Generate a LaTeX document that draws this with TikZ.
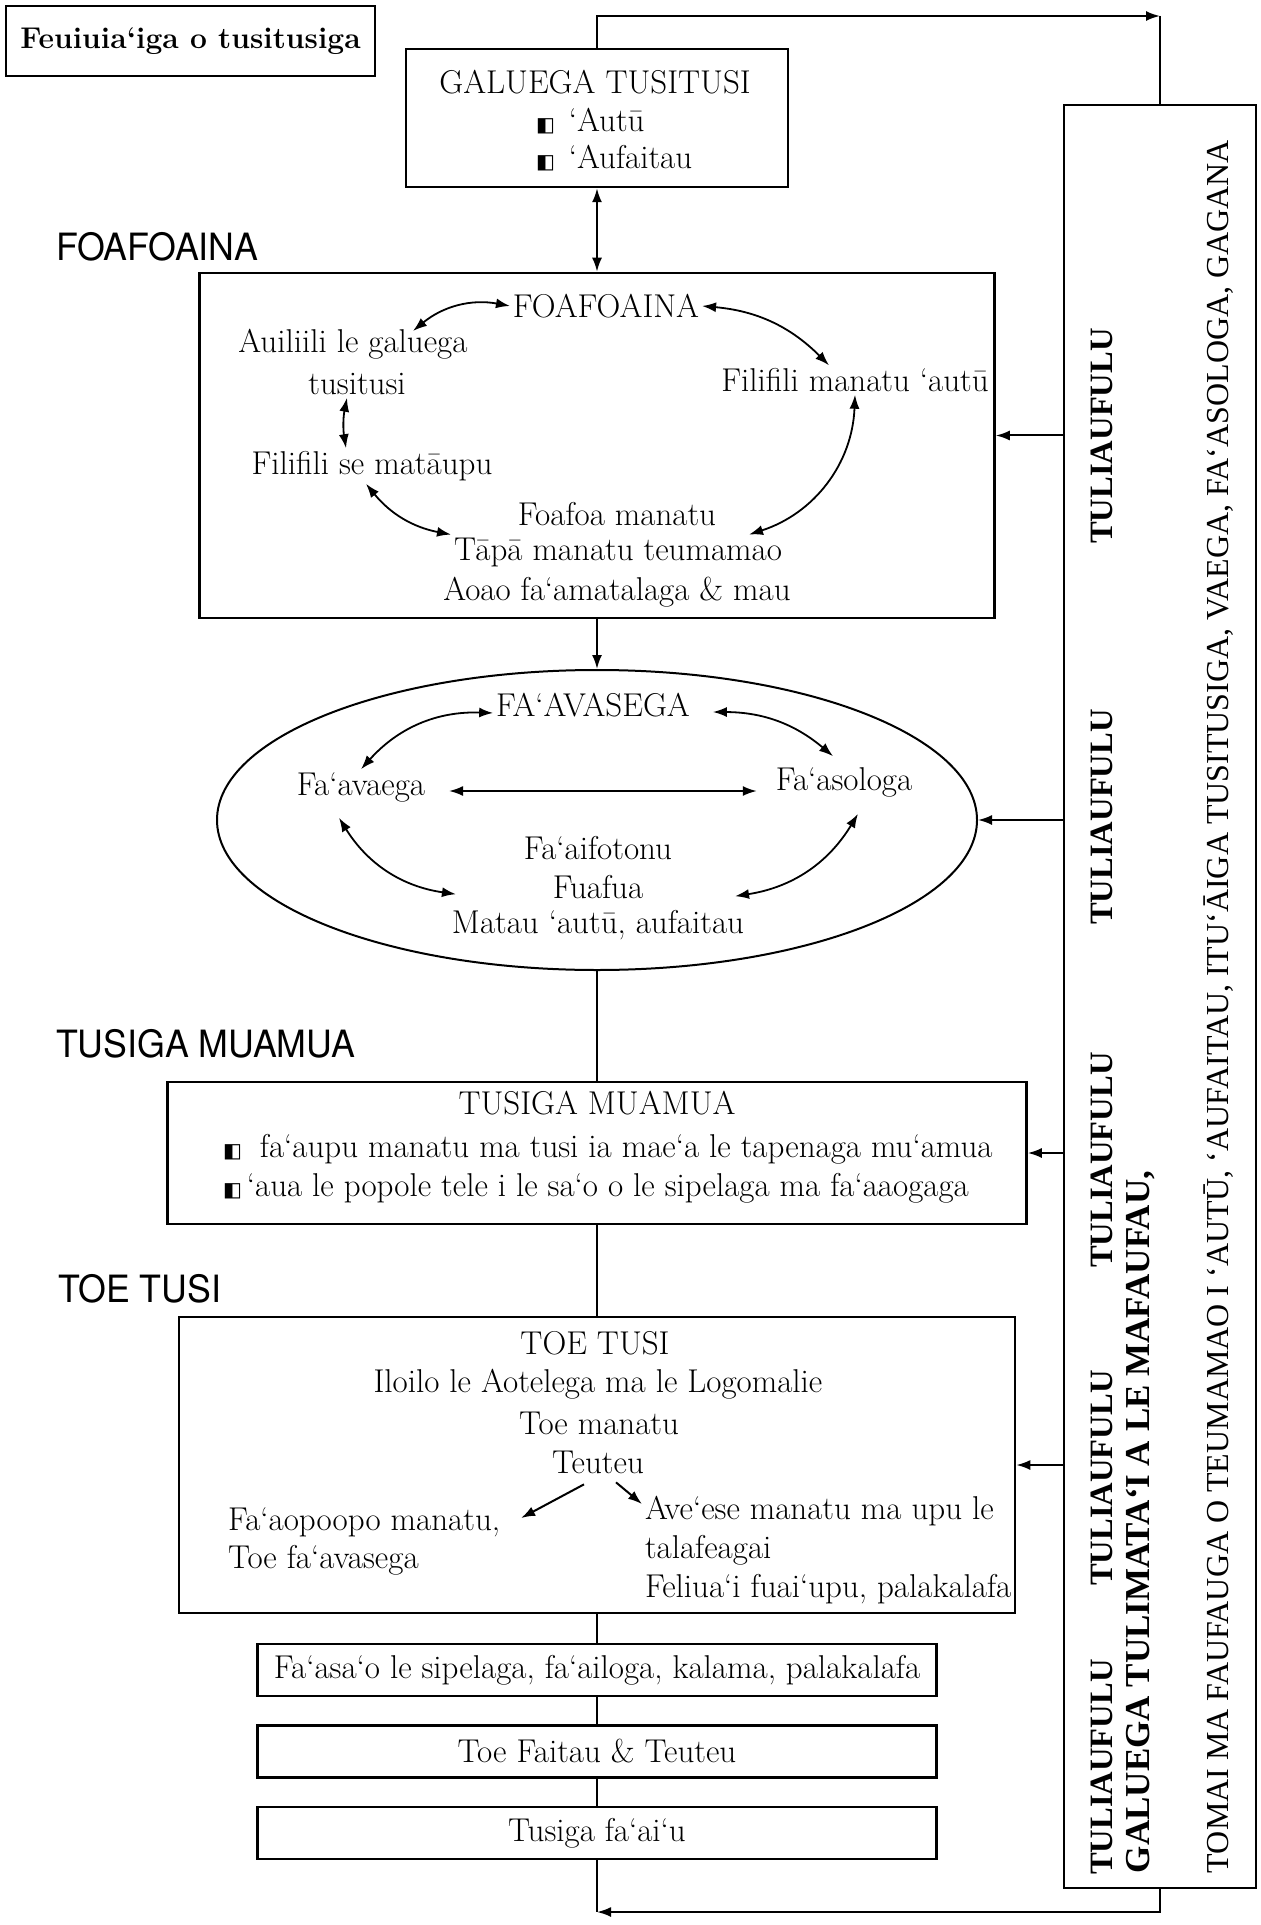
\documentclass[tikz,border=0pt]{standalone}
\usepackage{fontspec}
\usepackage{tikz}
\usetikzlibrary{arrows.meta,shapes.geometric}

\newfontfamily\headfont[FakeStretch=0.95]{TeX Gyre Heros}
\newfontfamily\sidefont{Liberation Serif}
\newfontfamily\symfont{DejaVu Sans}
\newcommand{\halfsq}{{\symfont\fontsize{10}{10}\selectfont ◧}}

\tikzset{
  txt/.style={font=\fontsize{16.5}{19.5}\selectfont,inner sep=1pt},
  box/.style={draw,line width=1.25pt,inner sep=0pt},
  head/.style={font=\headfont\fontsize{18.8}{20}\selectfont,anchor=west,inner sep=0pt},
  tuli/.style={font=\sidefont\bfseries\fontsize{16.3}{17}\selectfont,rotate=90,inner sep=0pt},
  side/.style={font=\sidefont\fontsize{16}{17}\selectfont,rotate=90,anchor=west,inner sep=0pt},
  cyc/.style={<->,line width=0.9pt}
}

\begin{document}
\begin{tikzpicture}[x=0.5pt,y=-0.5pt,line width=1pt,node distance=40.75pt,
    >={Latex[length=7pt,width=5pt]}]
  \useasboundingbox (0,0) rectangle (1260,1925);

  \node[box,minimum width=184.5pt,minimum height=35pt,font=\bfseries\fontsize{15}{18}\selectfont]
        (title)   at (190.5,41)   {Feuiuia‘iga o tusitusiga};
  \node[box,minimum width=191pt,minimum height=69pt]     (galuega) at (597,118)    {};
  \node[box,minimum width=397.5pt,minimum height=172.5pt] (foafoa) at (597,445.5)  {};
  \node[draw,ellipse,minimum width=380pt,minimum height=150pt,inner sep=0pt]
        (avasega) at (597,820)    {};
  \node[box,minimum width=429.5pt,minimum height=71pt]   (muamua)  at (597,1153)   {};
  \node[box,minimum width=418pt,minimum height=148pt]    (toetusi) at (597,1465)   {};
  \node[txt,box,minimum width=339.5pt,minimum height=26pt] (fasao) at (597,1670)   {Fa‘asa‘o le sipelaga, fa‘ailoga, kalama, palakalafa};
  \node[txt,box,minimum width=339.5pt,minimum height=26pt] (faitau) [below of=fasao]  {Toe Faitau \& Teuteu};
  \node[txt,box,minimum width=339.5pt,minimum height=26pt] (faaiu)  [below of=faitau] {Tusiga fa‘ai‘u};
  \node[box,minimum width=96pt,minimum height=891.5pt]   (tall)    at (1160,996.5) {};

  \node[head] (labfoa) at (55,247)  {FOAFOAINA};
  \node[head] (labmua) at (55,1044) {TUSIGA MUAMUA};
  \node[head] (labtoe) at (57,1289) {TOE TUSI};

  \node[txt]              (galt) at (595,82)  {GALUEGA TUSITUSI};
  \node[txt,anchor=west]  (autu) at (533,121) {\halfsq\hspace{7pt}‘Autū};
  \node[txt,anchor=west]  (aufa) at (533,158) {\halfsq\hspace{7pt}‘Aufaitau};

  \node[txt] (fo)  at (606,306) {FOAFOAINA};
  \node[txt] (aul) at (353,344) {Auiliili le galuega};
  \node[txt] (tus) at (357,384) {tusitusi};
  \node[txt] (fma) at (855,380) {Filifili manatu ‘autū};
  \node[txt] (fse) at (372,466) {Filifili se matāupu};
  \node[txt] (ffm) at (617,514) {Foafoa manatu};
  \node[txt] (tap) at (618,552) {Tāpā manatu teumamao};
  \node[txt] (aoa) at (617,592) {Aoao fa‘amatalaga \& mau};

  \node[txt] (av)  at (593,705) {FA‘AVASEGA};
  \node[txt] (fav) at (361,787) {Fa‘avaega};
  \node[txt] (fas) at (844,782) {Fa‘asologa};
  \node[txt] (fai) at (598,848) {Fa‘aifotonu};
  \node[txt] (fua) at (598,887) {Fuafua};
  \node[txt] (mat) at (598,925) {Matau ‘autū, aufaitau};

  \node[txt]             (muat) at (597,1103) {TUSIGA MUAMUA};
  \node[txt,anchor=west] (mua1) at (220,1149) {\halfsq\hspace{9pt}fa‘aupu manatu ma tusi ia mae‘a le tapenaga mu‘amua};
  \node[txt,anchor=west] (mua2) at (220,1188) {\halfsq\hspace{2.5pt}‘aua le popole tele i le sa‘o o le sipelaga ma fa‘aaogaga};

  \node[txt]             (tt)   at (595,1343) {TOE TUSI};
  \node[txt]             (ilo)  at (598,1384) {Iloilo le Aotelega ma le Logomalie};
  \node[txt]             (tma)  at (599,1423) {Toe manatu};
  \node[txt]             (teu)  at (598,1462) {Teuteu};
  \node[txt,anchor=west] (fap1) at (225,1522) {Fa‘aopoopo manatu,};
  \node[txt,anchor=west] (fap2) at (225,1560) {Toe fa‘avasega};
  \node[txt,anchor=west] (ave1) at (642,1511) {Ave‘ese manatu ma upu le};
  \node[txt,anchor=west] (ave2) at (642,1550) {talafeagai};
  \node[txt,anchor=west] (ave3) at (642,1589) {Feliua‘i fuai‘upu, palakalafa};

  \foreach \y [count=\i] in {436,817,1160,1478,1767}
    \node[tuli] (tuli\i) at (1102,\y) {TULIAUFULU};
  \node[tuli,anchor=west,font=\sidefont\bfseries\fontsize{17.5}{18}\selectfont]
        (mafa)  at (1141,1874) {GALUEGA TULIMATA‘I A LE MAFAUFAU,};
  \node[side] (tomai) at (1219,1874) {TOMAI MA FAUFAUGA O TEUMAMAO I ‘AUTŪ, ‘AUFAITAU, ITU‘ĀIGA TUSITUSIGA, VAEGA, FA‘ASOLOGA, GAGANA};

  \coordinate (topR) at (1160,16);
  \coordinate (botL) at (597,1912);
  \draw[->] (galuega.north) |- (topR);
  \draw     (topR) -- (tall.north);
  \draw[->] (tall.south) |- (botL);
  \draw     (faaiu.south) -- (botL);

  \path (galuega.south) edge[<->] (foafoa.north)
        (foafoa.south)  edge[->]  (avasega.north)
        (avasega.south) edge      (muamua.north)
        (muamua.south)  edge      (toetusi.north)
        (toetusi.south) edge      (fasao.north)
        (fasao.south)   edge      (faitau.north)
        (faitau.south)  edge      (faaiu.north);

  \path ([yshift=5pt]foafoa.east) coordinate (f1);
  \draw[->] (tall.west |- f1) -- (f1);
  \draw[->] (tall.west |- avasega.east) -- (avasega.east);
  \draw[->] (tall.west |- muamua.east) -- (muamua.east);
  \draw[->] (tall.west |- toetusi.east) -- (toetusi.east);

  \path[cyc] (fo.west) edge[bend right=25] ([xshift=30pt,yshift=-2.5pt]aul.north)
             (fo.east) edge[bend left=20]  ([xshift=-13pt]fma.north)
             ([xshift=-5pt]tus.south) edge[bend right=10] ([xshift=-13pt]fse.north)
             ([xshift=-3pt]fse.south) edge[bend right=20] (tap.north west)
             (fma.south) edge[bend left=35] ([xshift=-18pt]tap.north east);

  \path[cyc] ([yshift=-4pt]av.west) edge[bend right=25] (fav.north)
             ([xshift=10pt,yshift=-3.5pt]av.east) edge[bend left=20] ([xshift=-5.5pt,yshift=4pt]fas.north)
             ([xshift=10.5pt,yshift=-2pt]fav.east) edge ([xshift=-8pt,yshift=-4.5pt]fas.west)
             ([xshift=-11pt,yshift=-6.5pt]fav.south) edge[bend right=25] ([xshift=3.5pt,yshift=6.5pt]mat.north west)
             ([xshift=7pt,yshift=-7pt]fas.south) edge[bend left=25] ([xshift=-6pt,yshift=5.5pt]mat.north east);

  \draw[->] ([xshift=-7pt,yshift=-4pt]teu.south) -- ([xshift=9pt,yshift=2pt]fap1.east);
  \draw[->] ([xshift=9pt,yshift=-3pt]teu.south)  -- ([yshift=3.5pt]ave1.west);
\end{tikzpicture}
\end{document}
